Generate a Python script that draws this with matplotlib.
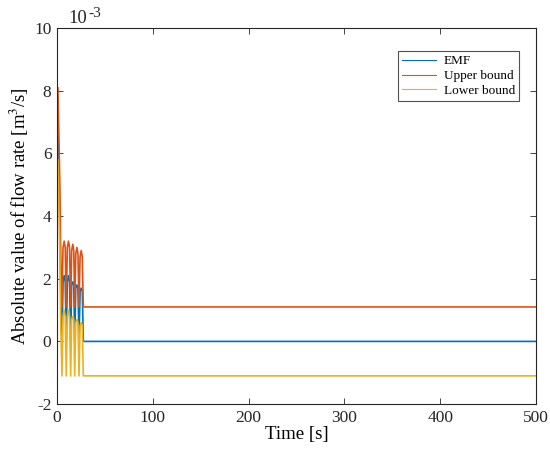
import matplotlib.pyplot as plt
import numpy as np

plt.rcParams['font.family'] = ['Liberation Serif', 'DejaVu Serif']
plt.rcParams['mathtext.fontset'] = 'stix'
plt.rcParams['axes.unicode_minus'] = False

# 时间 [s] 与流量 (单位 1e-3 m^3/s)
t = [0, 1, 2, 3, 4, 5.2, 6.3, 7.5, 8.6, 9.7, 10.8, 12.0, 13.1, 14.3, 15.3, 16.5,
     17.5, 18.5, 19.6, 20.8, 21.9, 23.0, 24.1, 25.3, 26.4, 27.5, 500]
emf = [6.9, 6.9, 5.4, 3.9, 1.5, 0.0, 1.9, 2.1, 1.9, 0.0, 1.9, 2.1, 1.9, 0.0, 1.8, 1.9,
       1.8, 0.0, 1.7, 1.8, 1.7, 0.0, 1.6, 1.7, 1.6, 0.0, 0.0]
upper = [8.1, 8.1, 6.5, 5.0, 2.6, 1.1, 3.0, 3.2, 3.0, 1.1, 3.0, 3.2, 3.0, 1.1, 2.9, 3.1,
         2.9, 1.1, 2.8, 3.0, 2.8, 1.1, 2.7, 2.9, 2.7, 1.1, 1.1]
lower = [5.8, 5.8, 4.3, 2.8, 0.4, -1.1, 0.8, 1.0, 0.8, -1.1, 0.8, 1.0, 0.8, -1.1, 0.7, 0.8,
         0.7, -1.1, 0.6, 0.7, 0.6, -1.1, 0.5, 0.6, 0.5, -1.1, -1.1]

fig = plt.figure(figsize=(5.5, 4.54), dpi=100)
ax = fig.add_axes([0.1036, 0.110, 0.871, 0.828])

ax.plot(t, emf, color='#0072BD', lw=1.2, label='EMF')
ax.plot(t, upper, color='#D95319', lw=1.2, label='Upper bound')
ax.plot(t, lower, color='#EDB120', lw=1.2, label='Lower bound')

ax.set_xlim(0, 500)
ax.set_ylim(-2, 10)
ax.set_xticks(np.arange(0, 501, 100))
ax.set_yticks(np.arange(-2, 11, 2))
ax.tick_params(direction='in', length=4, width=0.6, labelsize=12.5, colors='#262626',
               top=True, right=True, pad=4)
for s in ax.spines.values():
    s.set_color('#262626')
    s.set_linewidth(0.8)

ax.set_xlabel('Time [s]', fontsize=13.5, labelpad=0)
ax.set_ylabel('Absolute value of flow rate [m$^3$/s]', fontsize=13.5, labelpad=2)
# 纵轴量级 10^-3
fig.text(68 / 550, 1 - 23 / 454, '10', fontsize=13.5, va='baseline', ha='left',
         color='#262626')
fig.text(88 / 550, 1 - 17 / 454, '-3', fontsize=11, va='baseline', ha='left',
         color='#262626')

leg = ax.legend(loc='upper right', bbox_to_anchor=(0.9645, 0.939), fontsize=9.5,
                frameon=True, fancybox=False, handlelength=2.6, handletextpad=0.6,
                borderpad=0.3, labelspacing=0.2, borderaxespad=0)
leg.get_frame().set_edgecolor('#262626')
leg.get_frame().set_linewidth(0.8)
for line in leg.get_lines():
    line.set_linewidth(0.8)

plt.savefig('out.png', dpi=100)
